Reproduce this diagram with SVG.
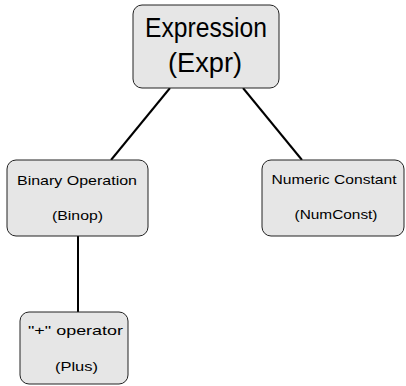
<svg xmlns="http://www.w3.org/2000/svg" width="406" height="386" viewBox="0 0 406 386">
<style>
.box{fill:#e6e6e6;stroke:#222;stroke-width:1}
.edge{stroke:#000;stroke-width:2;fill:none}
text{font-family:"Liberation Sans","DejaVu Sans",sans-serif;fill:#000;text-anchor:middle}
.big{font-size:27px}
.sm{font-size:13.5px}
</style>
<rect width="406" height="386" fill="#fff"/>
<g id="connectors">
<line class="edge" x1="170" y1="88" x2="111" y2="160"/>
<line class="edge" x1="243" y1="88" x2="302" y2="160"/>
<line class="edge" x1="78" y1="236" x2="78" y2="312"/>
</g>
<g id="expr">
<rect class="box" x="133" y="5" width="146" height="83" rx="9"/>
<text class="big" x="206" y="37" textLength="122" lengthAdjust="spacingAndGlyphs">Expression</text>
<text class="big" x="205" y="72" textLength="74" lengthAdjust="spacingAndGlyphs">(Expr)</text>
</g>
<g id="binop">
<rect class="box" x="7" y="160" width="141" height="76" rx="9"/>
<text class="sm" x="77" y="185" textLength="120" lengthAdjust="spacingAndGlyphs">Binary Operation</text>
<text class="sm" x="77.5" y="220" textLength="51" lengthAdjust="spacingAndGlyphs">(Binop)</text>
</g>
<g id="numconst">
<rect class="box" x="262" y="160" width="142" height="76" rx="9"/>
<text class="sm" x="334" y="184" textLength="125" lengthAdjust="spacingAndGlyphs">Numeric Constant</text>
<text class="sm" x="336" y="219" textLength="83" lengthAdjust="spacingAndGlyphs">(NumConst)</text>
</g>
<g id="plus">
<rect class="box" x="20" y="312" width="108" height="72" rx="9"/>
<text class="sm" x="75.5" y="335" textLength="95" lengthAdjust="spacingAndGlyphs">"+" operator</text>
<text class="sm" x="76.5" y="371" textLength="43" lengthAdjust="spacingAndGlyphs">(Plus)</text>
</g>
</svg>
